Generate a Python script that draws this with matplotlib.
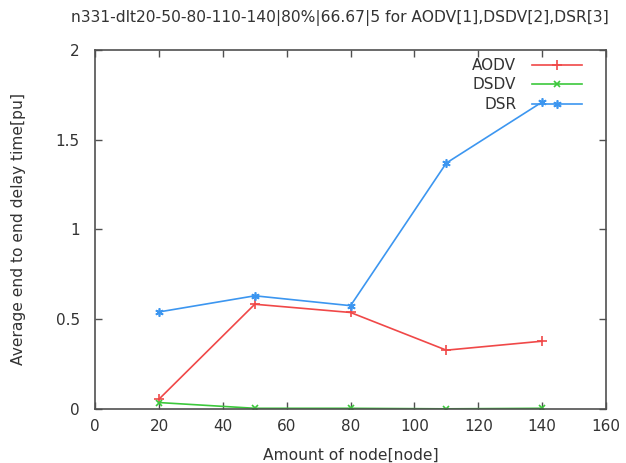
import matplotlib
matplotlib.use("Agg")
import matplotlib.pyplot as plt

# amount of nodes
nodes = [20, 50, 80, 110, 140]
# average end to end delay time [pu]
aodv = [0.054, 0.583, 0.537, 0.327, 0.377]
dsdv = [0.035, 0.003, 0.003, 0.0, 0.003]
dsr = [0.54, 0.63, 0.575, 1.37, 1.71]

plt.rcParams['font.family'] = ['DejaVu Sans']

fig = plt.figure(figsize=(6.26, 4.63), dpi=100)
ax = fig.add_axes([0.152, 0.117, 0.816, 0.775])

ax.plot(nodes, aodv, color='#f04848', lw=1.2, marker='+', ms=7, mew=1.2, label='AODV')
ax.plot(nodes, dsdv, color='#3cc83c', lw=1.2, marker='x', ms=5, mew=1.2, label='DSDV')
ax.plot(nodes, dsr, color='#3c96f0', lw=1.2, marker=(6, 2, 0), ms=6, mew=1.2, label='DSR')

ax.set_xlim(0, 160)
ax.set_ylim(0, 2)
ax.set_xticks(range(0, 161, 20))
ax.set_yticks([0, 0.5, 1, 1.5, 2])
ax.set_yticklabels(['0', '0.5', '1', '1.5', '2'])

for s in ax.spines.values():
    s.set_color('#505050')
    s.set_linewidth(1.2)
ax.tick_params(direction='in', top=True, right=True, length=5, width=1,
               colors='#505050', labelcolor='#333333', labelsize=11)
ax.tick_params(axis='x', pad=7)
ax.tick_params(axis='y', pad=11)

ax.set_xlabel('Amount of node[node]', fontsize=11.2, color='#333333')
ax.set_ylabel('Average end to end delay time[pu]', fontsize=11.2, color='#333333')
ax.xaxis.set_label_coords(0.5, -0.108)
ax.yaxis.set_label_coords(-0.135, 0.5)
fig.text(0.543, 0.962, 'n331-dlt20-50-80-110-140|80%|66.67|5 for AODV[1],DSDV[2],DSR[3]',
         ha='center', va='center', fontsize=11.2, color='#333333')

ax.legend(loc='upper right', frameon=False, markerfirst=False, fontsize=11,
          handlelength=3.3, handletextpad=1.0, borderaxespad=0.0, labelspacing=0.3,
          bbox_to_anchor=(0.965, 0.995), labelcolor='#333333')

fig.savefig('out.png', dpi=100)
